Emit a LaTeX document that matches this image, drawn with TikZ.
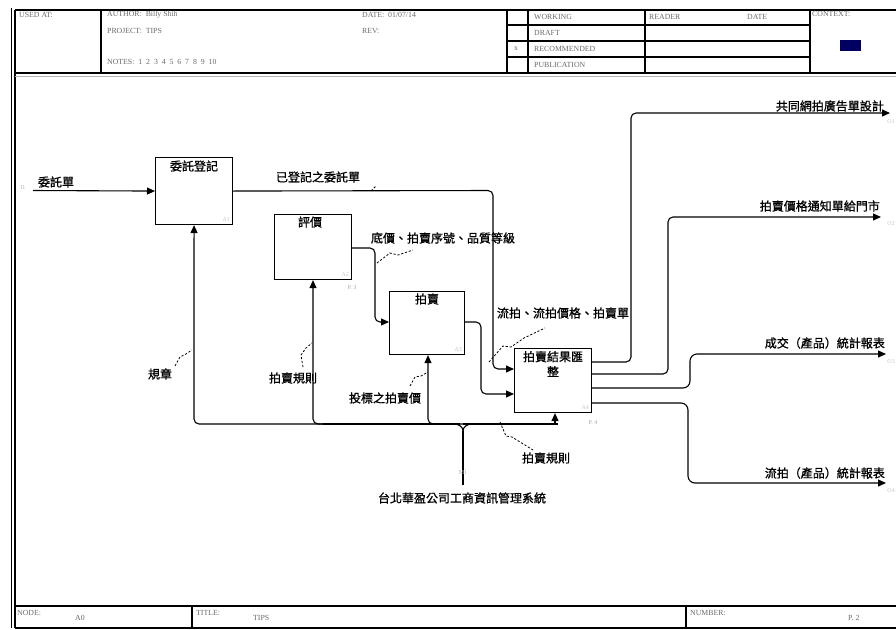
\documentclass[tikz,border=0pt]{standalone}
\usepackage{fontspec}
\setmainfont{Liberation Serif}
\newfontfamily\cjk[FakeBold=1]{Noto Sans CJK TC}
\usetikzlibrary{arrows.meta}
\definecolor{hdrgray}{RGB}{105,105,105}
\definecolor{navyblk}{RGB}{0,0,96}
\begin{document}
\begin{tikzpicture}[x=1pt,y=-1pt,
  frame/.style={line width=1.6pt},
  thinframe/.style={line width=0.7pt},
  rowbar/.style={line width=2.4pt},
  actbox/.style={draw, line width=1.1pt, inner sep=0, anchor=north west},
  flow/.style={line width=1.1pt, rounded corners=5pt},
  arr/.style={flow, -{Triangle[length=8pt,width=7pt]}},
  lbl/.style={font=\cjk\fontsize{12}{14}\selectfont, inner sep=0},
  squig/.style={dash pattern=on 2.2pt off 1.8pt, line width=0.8pt},
  hdr/.style={font=\fontsize{7.8}{9}\selectfont, text=hdrgray, anchor=west, inner sep=0},
  tiny/.style={font=\fontsize{6}{7}\selectfont, text=gray!45, inner sep=0}
]
\useasboundingbox (0,0) rectangle (896,629);

% ---------------- frame ----------------
\draw[thinframe] (11,8) -- (11,628);
\draw[frame] (15,10) -- (15,628);
\draw[frame] (15,10) -- (896,10);
\draw[frame] (15,73) -- (896,73);
\draw[line width=0.5pt, gray!60] (15,76) -- (896,76);
\draw[frame] (101,10) -- (101,73);
\draw[frame] (507,10) -- (507,73);
\draw[frame] (528,10) -- (528,73);
\draw[frame] (645,10) -- (645,73);
\draw[frame] (810,10) -- (810,73);
\foreach \yy in {25,41,57} \draw[rowbar] (507,\yy) -- (810,\yy);
\node[draw=none, fill=navyblk, minimum width=21pt, minimum height=11pt, inner sep=0, anchor=north west] (ctx) at (840,40) {};

\node[hdr] (usedat) at (19,15) {USED AT:};
\node[hdr] (author) at (107,15) {AUTHOR:\ \ Billy Shih};
\node[hdr] (project) at (107,31) {PROJECT:\ \ TIPS};
\node[hdr] (notes) at (107,62) {NOTES:\ \ 1\ \ 2\ \ 3\ \ 4\ \ 5\ \ 6\ \ 7\ \ 8\ \ 9\ \ 10};
\node[hdr] (date) at (362,15) {DATE:\ \ 01/07/14};
\node[hdr] (rev) at (362,31) {REV:};
\node[hdr] (working) at (534,17) {WORKING};
\node[hdr] (draft) at (534,33) {DRAFT};
\node[hdr] (recom) at (534,49) {RECOMMENDED};
\node[hdr] (publ) at (534,65) {PUBLICATION};
\node[hdr] (xmark) at (514,49) {x};
\node[hdr] (reader) at (649,17) {READER};
\node[hdr] (rdate) at (747,17) {DATE};
\node[hdr] (context) at (812,14) {CONTEXT:};

% footer
\draw[frame] (15,606) -- (896,606);
\draw[frame] (15,628) -- (896,628);
\draw[frame] (192,606) -- (192,628);
\draw[frame] (686,606) -- (686,628);
\node[hdr] (node) at (17,613) {NODE:};
\node[hdr] (nodeval) at (75,618) {A0};
\node[hdr] (title) at (196,613) {TITLE:};
\node[hdr] (titleval) at (253,618) {TIPS};
\node[hdr] (number) at (690,613) {NUMBER:};
\node[hdr] (numval) at (848,618) {P. 2};

% ---------------- activity boxes ----------------
\node[actbox, minimum width=77pt, minimum height=67pt] (b1) at (155,157) {};
\node[actbox, minimum width=77pt, minimum height=65pt] (b2) at (274,214) {};
\node[actbox, minimum width=75pt, minimum height=63pt] (b3) at (389,291) {};
\node[actbox, minimum width=77pt, minimum height=64pt] (b4) at (514,348) {};

\node[lbl] (t1) at (194,166) {委託登記};
\node[lbl] (t2) at (310,222) {評價};
\node[lbl] (t3) at (427,299) {拍賣};
\node[lbl, align=center, font=\cjk\fontsize{12}{15}\selectfont] (t4) at (553,364) {拍賣結果匯\\整};

\node[tiny, anchor=south east] (n1) at ([xshift=-3pt,yshift=3pt]b1.south east) {A1};
\node[tiny, anchor=south east] (n2) at ([xshift=-3pt,yshift=3pt]b2.south east) {A2};
\node[tiny, anchor=south east] (n3) at ([xshift=-3pt,yshift=3pt]b3.south east) {A3};
\node[tiny, anchor=south east] (n4) at ([xshift=-3pt,yshift=3pt]b4.south east) {A4};
\node[tiny, text=gray!70] (p3) at (352,288) {P. 3};
\node[tiny, text=gray!70] (p4) at (593,423) {P. 4};

% ---------------- input ----------------
\coordinate (i1) at (33,190.5);
\node[tiny, text=gray!60] (i1code) at (23,188) {I1};
\node[lbl] (i1lbl) at (56,182) {委託單};
\draw[arr] (i1) -- (b1.west);

% box1 -> box4
\draw[arr] (b1.east) -- (493,190.5) -- (493,369) -- (b4.west |- 0,369);
\node[lbl] (l1) at (318,177) {已登記之委託單};
\draw[squig] (371,191) -- (376,186);

% box2 -> box3
\draw[arr] (b2.east |- 0,248) -- (375,248) -- (375,322) -- (b3.west |- 0,322);
\node[lbl] (l2) at (443,238) {底價、拍賣序號、品質等級};
\draw[squig] (377,263) -- (390,253) -- (398,255) -- (413,250);

% box3 -> box4
\draw[arr] (b3.east |- 0,322) -- (481,322) -- (481,394) -- (b4.west |- 0,394);
\node[lbl] (l3) at (563,313) {流拍、流拍價格、拍賣單};
\draw[squig] (489,362) -- (503,346) -- (511,347) -- (524,338) -- (545,328);

% ---------------- outputs ----------------
\coordinate (o1) at (890,113);
\coordinate (o2) at (881,217);
\coordinate (o3) at (886,354);
\coordinate (o4) at (886,483);
\draw[arr] (b4.east |- 0,362) -- (631,362) -- (631,113) -- (o1);
\draw[arr] (b4.east |- 0,374) -- (668,374) -- (668,217) -- (o2);
\draw[arr, rounded corners=7pt] (b4.east |- 0,388) -- (690,388) -- (690,354) -- (o3);
\draw[arr, rounded corners=7pt] (b4.east |- 0,403) -- (688,403) -- (688,483) -- (o4);
\node[lbl, anchor=east] (ol1) at (884,106) {共同網拍廣告單設計};
\node[lbl, anchor=east] (ol2) at (880,206) {拍賣價格通知單給門市};
\node[lbl, anchor=east] (ol3) at (885,343) {成交（產品）統計報表};
\node[lbl, anchor=east] (ol4) at (885,473) {流拍（產品）統計報表};
\node[tiny, anchor=east] (oc1) at (895,122) {O1};
\node[tiny, anchor=east] (oc2) at (895,224) {O2};
\node[tiny, anchor=east] (oc3) at (895,362) {O3};
\node[tiny, anchor=east] (oc4) at (895,491) {O4};

% ---------------- mechanisms ----------------
\draw[arr] (463,424) -- (194,424) -- (b1.south);
\draw[flow] (463,424) -- (558,424);
\draw[line width=1.8pt] (323,424) -- (460,424);
\draw[arr] (330,424) -- (313,424) -- (b2.south -| 313,0);
\draw[arr] (440,424) -- (428,424) -- (b3.south -| 428,0);
\draw[-{Triangle[length=8pt,width=7pt]}, line width=1.1pt] (555,424) -- (b4.south -| 555,0);
\coordinate (m1) at (463,485);
\draw[line width=1.1pt] (m1) -- (463,431);
\draw[line width=1.1pt] (454,424) .. controls (459,424) and (463,427) .. (463,431);
\draw[line width=1.1pt] (472,424) .. controls (467,424) and (463,427) .. (463,431);
\node[tiny, text=gray!60] (m1code) at (463,473) {M1};
\node[lbl] (ml) at (462,498) {台北華盈公司工商資訊管理系統};

% labels of the lines entering from below
\node[lbl] (c1) at (160,374) {規章};
\draw[squig] (175,366) -- (180,357) -- (186,354) -- (192,350);
\node[lbl] (c2) at (293,378) {拍賣規則};
\draw[squig] (303,367) -- (301,355) -- (306,348) -- (312,343);
\node[lbl] (c3) at (385,398) {投標之拍賣價};
\draw[squig] (410,386) -- (415,377) -- (421,376) -- (428,372);
\node[lbl] (c4) at (546,458) {拍賣規則};
\draw[squig] (500,422) -- (506,436) -- (512,437) -- (533,450);
\end{tikzpicture}
\end{document}
